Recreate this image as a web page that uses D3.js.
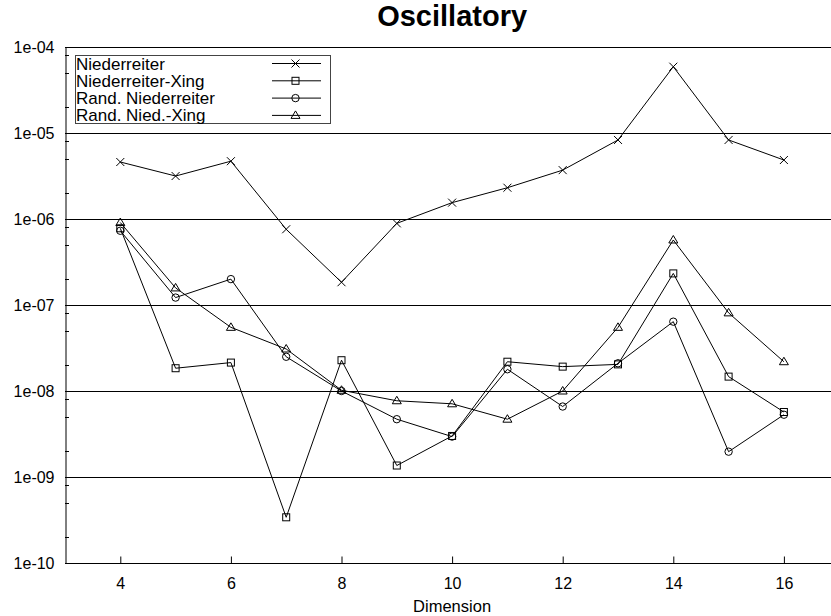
<!DOCTYPE html>
<html>
<head>
<meta charset="utf-8">
<script src="https://cdn.jsdelivr.net/npm/d3@7"></script>
<style>
  body { margin: 0; background: #fff; }
  text { font-family: "Liberation Sans", Arial, sans-serif; fill: #000; }
</style>
</head>
<body>
<div id="chart"></div>
<script>
// data
const dims = [4, 5, 6, 7, 8, 9, 10, 11, 12, 13, 14, 15, 16];
const niederreiter     = [4.6e-6, 3.16e-6, 4.7e-6, 7.6e-7, 1.84e-7, 8.9e-7, 1.55e-6, 2.31e-6, 3.7e-6, 8.3e-6, 5.9e-5, 8.3e-6, 4.85e-6];
const niederreiterXing = [7.8e-7, 1.84e-8, 2.14e-8, 3.4e-10, 2.28e-8, 1.36e-9, 3.0e-9, 2.19e-8, 1.92e-8, 2.04e-8, 2.33e-7, 1.47e-8, 5.7e-9];
const randNied         = [7.3e-7, 1.22e-7, 2.0e-7, 2.5e-8, 1.0e-8, 4.7e-9, 2.95e-9, 1.79e-8, 6.6e-9, 2.1e-8, 6.4e-8, 1.97e-9, 5.3e-9];
const randNiedXing     = [9.1e-7, 1.58e-7, 5.5e-8, 3.08e-8, 1.02e-8, 7.7e-9, 7.1e-9, 4.7e-9, 1.0e-8, 5.5e-8, 5.7e-7, 8.1e-8, 2.19e-8];
const seriesNames = ["Niederreiter", "Niederreiter-Xing", "Rand. Niederreiter", "Rand. Nied.-Xing"];
const markerTypes = ["cross", "square", "circle", "triangle"];
const xTicks = [4, 6, 8, 10, 12, 14, 16];
const yTicks = [1e-10, 1e-9, 1e-8, 1e-7, 1e-6, 1e-5, 1e-4];
const yTickLabels = ["1e-10", "1e-09", "1e-08", "1e-07", "1e-06", "1e-05", "1e-04"];

const series = [niederreiter, niederreiterXing, randNied, randNiedXing].map((vals, i) => ({
  name: seriesNames[i],
  marker: markerTypes[i],
  values: vals.map((v, j) => ({ x: dims[j], y: v }))
}));

const W = 831, H = 616;
const margin = { top: 47, left: 65, bottom: 53 };
const svg = d3.select("#chart").append("svg")
  .attr("width", W)
  .attr("height", H);

// x runs past the right edge of the picture, like the original
const x = d3.scaleLinear().domain([3, 17]).range([margin.left, margin.left + 14 * 55.3]);
const y = d3.scaleLog().domain([1e-10, 1e-4]).range([H - margin.bottom, margin.top]);

// title
svg.append("text")
  .attr("x", x(10))
  .attr("y", 26)
  .attr("text-anchor", "middle")
  .style("font-size", "29px")
  .style("font-weight", "bold")
  .text("Oscillatory");

// horizontal grid at each decade
svg.append("g")
  .selectAll("line")
  .data(yTicks)
  .join("line")
    .attr("x1", x(3)).attr("x2", W)
    .attr("y1", d => Math.round(y(d)) + 0.5)
    .attr("y2", d => Math.round(y(d)) + 0.5)
    .attr("stroke", "#000");

// minor ticks at 2, 5, 8 of each decade
const minor = [];
for (let e = -10; e < -4; e++) [2, 5, 8].forEach(m => minor.push(m * Math.pow(10, e)));
svg.append("g")
  .selectAll("line")
  .data(minor)
  .join("line")
    .attr("x1", x(3)).attr("x2", x(3) + 4)
    .attr("y1", d => Math.round(y(d)) + 0.5)
    .attr("y2", d => Math.round(y(d)) + 0.5)
    .attr("stroke", "#000");

// left axis labels
const yAxis = svg.append("g")
  .attr("transform", `translate(${x(3) + 0.5},0)`)
  .call(d3.axisLeft(y).tickValues(yTicks).tickSize(0).tickPadding(11)
    .tickFormat((d, i) => yTickLabels[i]));
yAxis.select(".domain").attr("stroke", "#000");
yAxis.selectAll("text")
  .style("font-size", "16px")
  .style("font-family", "'Liberation Sans', Arial, sans-serif");

// bottom axis, ticks point inward
const xAxis = svg.append("g")
  .attr("transform", `translate(0,${y(1e-10) + 0.5})`)
  .call(d3.axisBottom(x).tickValues(xTicks).tickSize(-7).tickPadding(14).tickFormat(d3.format("d")));
xAxis.select(".domain").attr("d", `M${x(3)},0H${W}`).attr("stroke", "#000");
xAxis.selectAll("text")
  .style("font-size", "16px")
  .style("font-family", "'Liberation Sans', Arial, sans-serif");

// x axis label
svg.append("text")
  .attr("x", x(10))
  .attr("y", 612)
  .attr("text-anchor", "middle")
  .style("font-size", "16.5px")
  .text("Dimension");

// marker drawing
function drawMarker(g, type) {
  if (type === "cross") {
    g.append("path").attr("d", "M-4,-4L4,4M-4,4L4,-4");
  } else if (type === "square") {
    g.append("rect").attr("x", -3.5).attr("y", -3.5).attr("width", 7).attr("height", 7);
  } else if (type === "circle") {
    g.append("circle").attr("r", 3.7);
  } else {
    g.append("path").attr("d", "M0,-4.5L4.5,3L-4.5,3Z");
  }
}

const line = d3.line().x(d => x(d.x)).y(d => y(d.y));

const plot = svg.append("g");
series.forEach(s => {
  plot.append("path")
    .datum(s.values)
    .attr("d", line)
    .attr("fill", "none")
    .attr("stroke", "#000")
    .attr("stroke-width", 1);
  plot.append("g")
    .selectAll("g")
    .data(s.values)
    .join("g")
      .attr("transform", d => `translate(${x(d.x)},${y(d.y)})`)
      .attr("fill", "none")
      .attr("stroke", "#000")
      .each(function() { drawMarker(d3.select(this), s.marker); });
});

// legend
const legend = svg.append("g");
legend.append("rect")
  .attr("x", 75.5).attr("y", 55.5)
  .attr("width", 255).attr("height", 68)
  .attr("fill", "#fff")
  .attr("stroke", "#444");
series.forEach((s, i) => {
  const ly = 63.5 + i * 17.3;
  legend.append("text")
    .attr("x", 76)
    .attr("y", ly + 6)
    .style("font-size", "17px")
    .text(s.name);
  legend.append("line")
    .attr("x1", 272).attr("x2", 321)
    .attr("y1", ly).attr("y2", ly)
    .attr("stroke", "#000");
  const m = legend.append("g")
    .attr("transform", `translate(295.5,${ly})`)
    .attr("fill", "none")
    .attr("stroke", "#000");
  drawMarker(m, s.marker);
});
</script>
</body>
</html>
